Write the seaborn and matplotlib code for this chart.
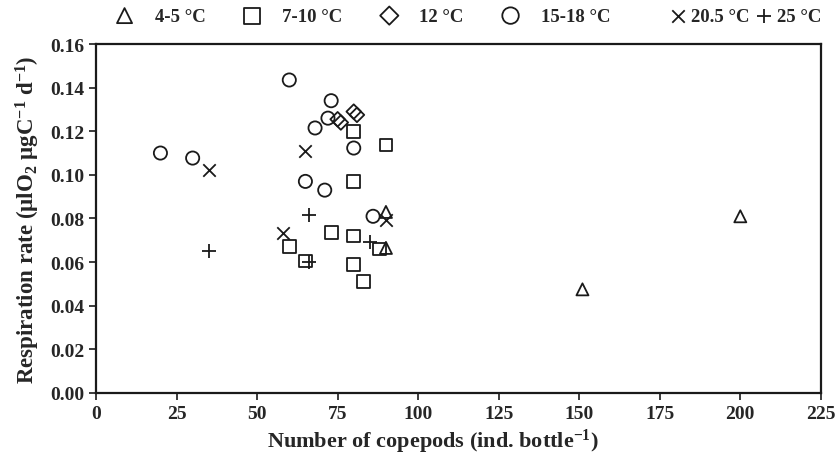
import numpy as np
import pandas as pd
import seaborn as sns
import matplotlib.pyplot as plt

# values
t4_x = [90, 90, 151, 200]
t4_y = [0.083, 0.0665, 0.0475, 0.081]

t7_x = [60, 65, 73, 80, 80, 80, 80, 83, 88, 90]
t7_y = [0.067, 0.0605, 0.0735, 0.1197, 0.097, 0.072, 0.059, 0.051, 0.066, 0.1137]

t12_x = [75, 76, 80, 81]
t12_y = [0.1255, 0.1240, 0.1290, 0.1275]

t15_x = [20, 30, 60, 65, 68, 71, 72, 73, 80, 86]
t15_y = [0.110, 0.1077, 0.1435, 0.097, 0.1215, 0.093, 0.126, 0.134, 0.1123, 0.081]

t20_x = [35, 58, 65, 90]
t20_y = [0.102, 0.0735, 0.111, 0.0795]

t25_x = [35, 66, 66, 85]
t25_y = [0.065, 0.0816, 0.060, 0.069]

groups = [
    ("4-5 °C", t4_x, t4_y, "^", True),
    ("7-10 °C", t7_x, t7_y, "s", True),
    ("12 °C", t12_x, t12_y, "D", True),
    ("15-18 °C", t15_x, t15_y, "o", True),
    ("20.5 °C", t20_x, t20_y, "x", False),
    ("25 °C", t25_x, t25_y, "+", False),
]

sns.set_style("ticks")
plt.rcParams["font.family"] = ["Liberation Serif", "DejaVu Serif"]
plt.rcParams["font.weight"] = "bold"
plt.rcParams["mathtext.fontset"] = "custom"
plt.rcParams["mathtext.rm"] = "Liberation Serif:bold"
plt.rcParams["mathtext.it"] = "Liberation Serif:bold"
plt.rcParams["mathtext.bf"] = "Liberation Serif:bold"

fig = plt.figure(figsize=(8.37, 4.64), dpi=100)
ax = fig.add_axes([0.1147, 0.151, 0.866, 0.752])

sizes = {"^": 75, "s": 85, "D": 55, "o": 90, "x": 80, "+": 95}
for label, xs, ys, mk, filled in groups:
    df = pd.DataFrame({"copepods": xs, "resp": ys})
    if filled:
        sns.scatterplot(data=df, x="copepods", y="resp", marker=mk, s=sizes[mk],
                        color="white", edgecolor="#1a1a1a", linewidth=1.3,
                        ax=ax, label=label)
        ax.collections[-1].set_facecolor("none")
    else:
        sns.scatterplot(data=df, x="copepods", y="resp", marker=mk, s=sizes[mk],
                        color="#1a1a1a", linewidth=1.3, ax=ax, label=label)

ax.set_xlim(0, 225)
ax.set_ylim(0, 0.16)
ax.set_xticks(np.arange(0, 226, 25))
ax.set_yticks(np.arange(0, 0.161, 0.02))
ax.set_yticklabels([f"{v:.2f}" for v in np.arange(0, 0.161, 0.02)])
ax.tick_params(axis="both", labelsize=14, length=5, width=1.2, color="#1a1a1a",
               direction="out")
for lab in ax.get_xticklabels() + ax.get_yticklabels():
    lab.set_fontweight("bold")
for sp in ax.spines.values():
    sp.set_visible(True)
    sp.set_linewidth(1.6)
    sp.set_color("#1a1a1a")

ax.set_xlabel("Number of copepods (ind. bottle$^{-1}$)", fontsize=16,
              fontweight="bold")
ax.xaxis.set_label_coords(0.465, -0.097)
ax.set_ylabel("Respiration rate (µlO$_2$ µgC$^{-1}$ d$^{-1}$)", fontsize=16.5,
              fontweight="bold", labelpad=6)

handles, labels = ax.get_legend_handles_labels()
ax.get_legend().remove()
leg_font = {"weight": "bold", "size": 13.5}
fig.legend(handles[:4], labels[:4], loc="upper left", ncol=4, frameon=False,
           bbox_to_anchor=(0.132, 0.992), prop=leg_font, borderpad=0.25,
           borderaxespad=0, handletextpad=1.1, columnspacing=2.0,
           handlelength=1.0, markerscale=1.25)
fig.legend(handles[4:], labels[4:], loc="upper left", ncol=2, frameon=False,
           bbox_to_anchor=(0.795, 0.992), prop=leg_font, borderpad=0.25,
           borderaxespad=0, handletextpad=0.3, columnspacing=0.4,
           handlelength=0.8, markerscale=1.0)

fig.savefig("out.png", dpi=100)
